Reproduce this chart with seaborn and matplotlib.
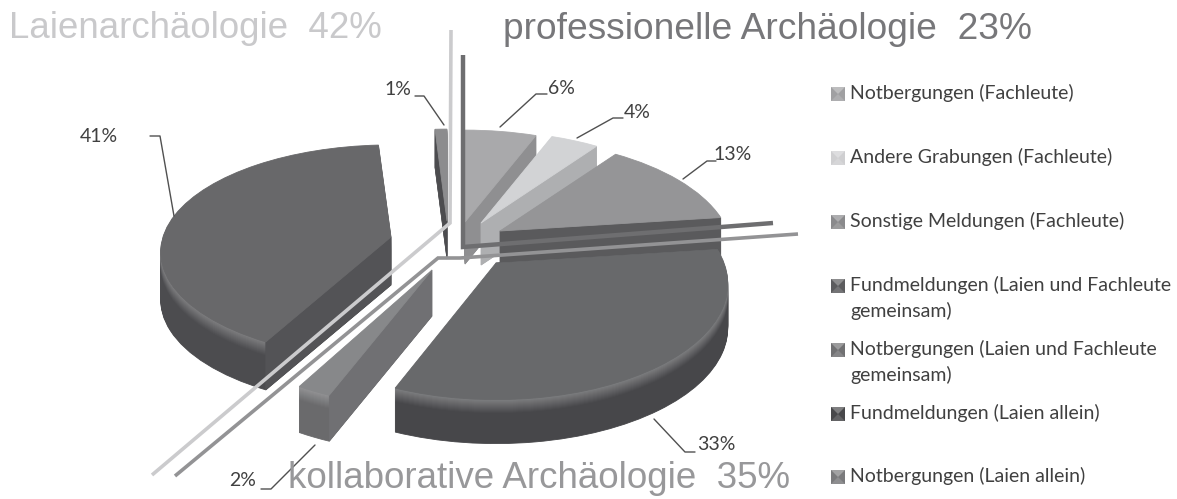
# Libraries
import numpy as np
import seaborn as sns
import matplotlib
matplotlib.use("Agg")
import matplotlib.pyplot as plt
import matplotlib.transforms as mtransforms
from matplotlib.colors import to_rgb

# -----------------------------------
# Configuration
# -----------------------------------
sns.set_theme(style="white")

# -----------------------------------
# Data
# -----------------------------------
categories = ["Notbergungen (Fachleute)",
              "Andere Grabungen (Fachleute)",
              "Sonstige Meldungen (Fachleute)",
              "Fundmeldungen (Laien und Fachleute\ngemeinsam)",
              "Notbergungen (Laien und Fachleute\ngemeinsam)",
              "Fundmeldungen (Laien allein)",
              "Notbergungen (Laien allein)"]
values = [6, 4, 13, 33, 2, 41, 1]
value_labels = ["6%", "4%", "13%", "33%", "2%", "41%", "1%"]
group_labels = ["Laienarchäologie  42%",
                "professionelle Archäologie  23%",
                "kollaborative Archäologie  35%"]

# -----------------------------------
# Styles and layout (pixels)
# -----------------------------------
top_colors = ["#a9a9ab", "#d2d3d5", "#959597", "#68696b", "#87888a", "#68686a", "#8c8c8e"]
wall_colors = ["#8f8f91", "#b3b4b6", "#77777a", "#47474a", "#6a6a6c", "#4c4c4f", "#77777a"]
radial_colors = ["#8f8f91", "#aeafb1", "#5a5a5c", "#47474a", "#707073", "#535356", "#4c4c4f"]
swatch_colors = ["#a0a0a2", "#cfcfd1", "#8a8a8c", "#5c5c5e", "#707072", "#48484a", "#7a7a7c"]
apexes = [(465, 222), (481, 223), (500, 231), (496, 263), (432, 270), (391, 237), (447, 221)]
# half width, half height and tilt of each slice
tilts = [(228, 110, 0.197), (228, 110, 0.197), (228, 110, 0.197), (228, 112, 0.18),
         (228, 110, 0.197), (228, 105, 0.14), (228, 110, 0.197)]
depths = [42, 42, 42, 44, 46, 48, 38]
# which side wall can be seen: False = start edge, True = end edge
wall_at_end = [True, True, True, False, False, False, False]
draw_order = [6, 0, 1, 2, 3, 5, 4]

label_pos = [(561, 88), (637, 112), (733, 155), (716, 445), (243, 481), (99, 137), (398, 89)]
leaders = [[(547, 94), (536, 94), (500, 127)],
           [(623, 118), (613, 118), (577, 138)],
           [(716, 161), (707, 161), (683, 179)],
           [(695, 452), (685, 452), (654, 419)],
           [(261, 489), (271, 489), (315, 445)],
           [(150, 136), (160, 136), (174, 216)],
           [(415, 96), (424, 96), (444, 125)]]
bracket_lines = [([451, 450, 152], [30, 223, 475], "#cbcbcd", 2.6),
                 ([798, 460, 438, 175], [234, 258, 258, 476], "#939395", 2.6),
                 ([463, 463, 773], [55, 247, 223], "#6e6e70", 3.2)]
legend_rows = [94, 158, 222, 286, 350, 414, 477]


# -----------------------------------
# Methods
# -----------------------------------
class Perspective(mtransforms.Transform):
    """Tilt the flat unit pie so that its front looks larger than its back."""
    input_dims = 2
    output_dims = 2
    is_separable = False

    def __init__(self, x0, y0, a, b, p):
        super().__init__()
        self.x0, self.y0, self.a, self.b, self.p = x0, y0, a, b, p

    def transform_non_affine(self, xy):
        xy = np.asarray(xy, dtype=float)
        d = 1 + self.p * xy[:, 1]
        return np.column_stack([self.x0 + self.a * xy[:, 0] / d,
                                self.y0 - self.b * xy[:, 1] / d])


def blend(c1, c2, t):
    c1, c2 = np.array(to_rgb(c1)), np.array(to_rgb(c2))
    return tuple(c1 + (c2 - c1) * t)


def draw_layer(ax, value, start, color, x0, y0, tilt):
    """One flat slice, drawn by pie and moved to its place."""
    wedges, _ = ax.pie([value, 100 - value], startangle=90 - start * 3.6,
                       counterclock=False, colors=[color, "none"],
                       wedgeprops={"linewidth": 0.6, "edgecolor": color})
    wedges[1].remove()
    wedges[0].set_transform(Perspective(x0, y0, *tilt) + ax.transData)


def draw_radial_wall(ax, percent, color, x0, y0, depth, tilt):
    """Flat side wall along one straight edge of a slice."""
    angle = np.deg2rad(percent * 3.6)
    tr = Perspective(x0, y0, *tilt)
    outer = tr.transform_non_affine(np.array([[np.sin(angle), np.cos(angle)]]))[0]
    ax.fill([x0, outer[0], outer[0], x0],
            [y0, outer[1], outer[1] + depth, y0 + depth],
            color=color, linewidth=0.5)


# -----------------------------------
# Figure
# -----------------------------------
fig = plt.figure(figsize=(11.77, 4.99), dpi=100)
ax = fig.add_axes([0, 0, 1, 1])

starts = np.concatenate([[0], np.cumsum(values)[:-1]])
for i in draw_order:
    x0, y0 = apexes[i]
    depth = depths[i]
    # Stack the slice from the floor upwards, the rim catches some light
    for d in range(depth, 0, -1):
        t = min(d / 14.0, 1.0)
        color = blend(blend(top_colors[i], "#a8a8aa", 0.35), wall_colors[i], t)
        draw_layer(ax, values[i], starts[i], color, x0, y0 + d, tilts[i])
    edge = starts[i] + values[i] if wall_at_end[i] else starts[i]
    draw_radial_wall(ax, edge, radial_colors[i], x0, y0, depth, tilts[i])
    draw_layer(ax, values[i], starts[i], top_colors[i], x0, y0, tilts[i])

ax.set_xlim(0, 1177)
ax.set_ylim(499, 0)
ax.set_aspect("auto")
ax.axis("off")

# Lines that bracket the three groups
for xs, ys, color, lw in bracket_lines:
    ax.plot(xs, ys, color=color, linewidth=lw, solid_joinstyle="miter", solid_capstyle="butt")

# Percent labels and their leaders
for label, (x, y), pts in zip(value_labels, label_pos, leaders):
    ax.text(x, y, label, ha="center", va="center", fontsize=14, family="Lato", color="#404040")
    ax.plot(*zip(*pts), color="#505050", linewidth=1.0)

# Group headings
ax.text(9, 28, group_labels[0], ha="left", va="center", fontsize=26.4,
        family="Liberation Sans", color="#c9c9cb")
ax.text(503, 29, group_labels[1], ha="left", va="center", fontsize=26.7,
        family="Liberation Sans", color="#77777a")
ax.text(288, 479, group_labels[2], ha="left", va="center", fontsize=26.5,
        family="Liberation Sans", color="#98989a")

# Legend
for name, color, y in zip(categories, swatch_colors, legend_rows):
    ax.fill([831, 845, 845, 831], [y - 7, y - 7, y + 7, y + 7], color=color, linewidth=0)
    ax.fill([831, 838, 845], [y - 7, y, y - 7], color=blend(color, "#ffffff", 0.3), linewidth=0)
    ax.fill([831, 838, 845], [y + 7, y, y + 7], color=blend(color, "#ffffff", 0.15), linewidth=0)
    ax.text(850, y - 10, name, ha="left", va="top", fontsize=14, family="Lato",
            color="#404040", linespacing=1.5)

fig.savefig("out.png", dpi=100)
